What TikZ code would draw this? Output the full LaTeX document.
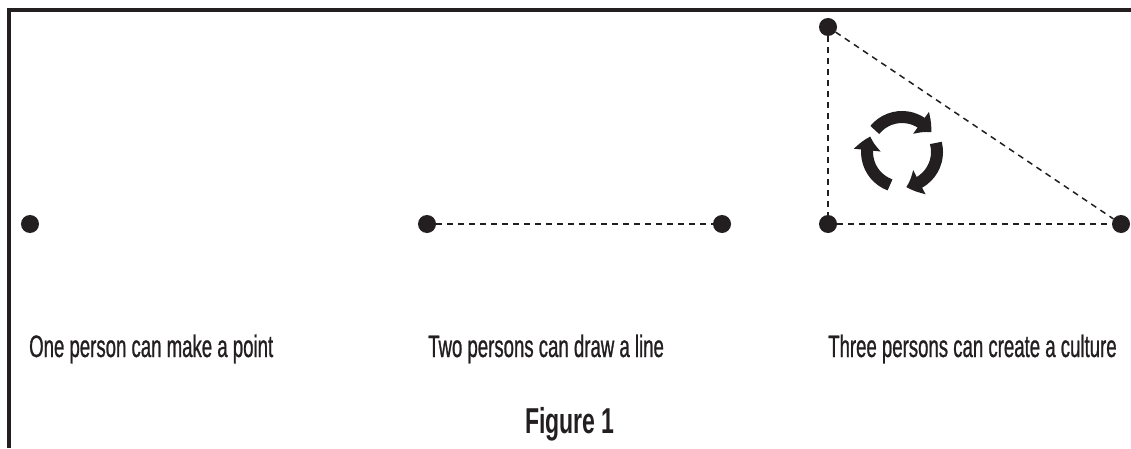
\documentclass[tikz,border=0pt]{standalone}
\usepackage{fontspec}
\setmainfont{Liberation Sans}
\newfontfamily\capfont{Liberation Sans}[FakeStretch=0.6,FakeBold=0.8]
\newfontfamily\figfont{Liberation Sans}[FakeStretch=0.64]
\usetikzlibrary{arrows.meta,bending}
\definecolor{ink}{RGB}{35,31,32}
\tikzset{
  dot/.style={circle,fill=ink,inner sep=0pt,minimum size=18pt},
  caption/.style={anchor=base west,inner sep=0pt,text=ink,
    font=\capfont\fontsize{31}{36}\selectfont},
  link/.style={draw=ink,line width=1.5pt,dash pattern=on 6pt off 5pt},
  turn/.style={draw=ink,line width=12pt,-{Triangle[width=26pt,length=14pt,bend]}}
}
\begin{document}
\begin{tikzpicture}[x=1pt,y=1pt]
  \useasboundingbox (0,0) rectangle (1131,448);
  \draw[ink,line width=3.5pt] (9,0) -- (9,438) -- (1131,438);
  \draw
    (30,224) node[dot] (p1){}
    (427,224) node[dot] (l1){}
    (722,224) node[dot] (l2){}
    (828,421) node[dot] (t1){}
    (828,224) node[dot] (t2){}
    (1121,224) node[dot] (t3){};
  \begin{scope}[link]
    \draw (l1) to (l2);
    \draw (t1) to (t2);
    \draw (t2) to (t3);
    \draw (t1) to (t3);
  \end{scope}
  \coordinate (cyc) at (902,296);
  \foreach \s/\e in {141/34, 15/-83, -110/-206}
    \draw[turn] ([shift=(\s:35)]cyc) arc[start angle=\s, end angle=\e, radius=35];
  \node[caption] (c1) at (29,91) {One person can make a point};
  \node[caption] (c2) at (428,91) {Two persons can draw a line};
  \node[caption] (c3) at (828,91) {Three persons can create a culture};
  \node[caption,anchor=base,font=\figfont\bfseries\fontsize{36}{40}\selectfont] (fig) at (570,15) {Figure 1};
\end{tikzpicture}
\end{document}
